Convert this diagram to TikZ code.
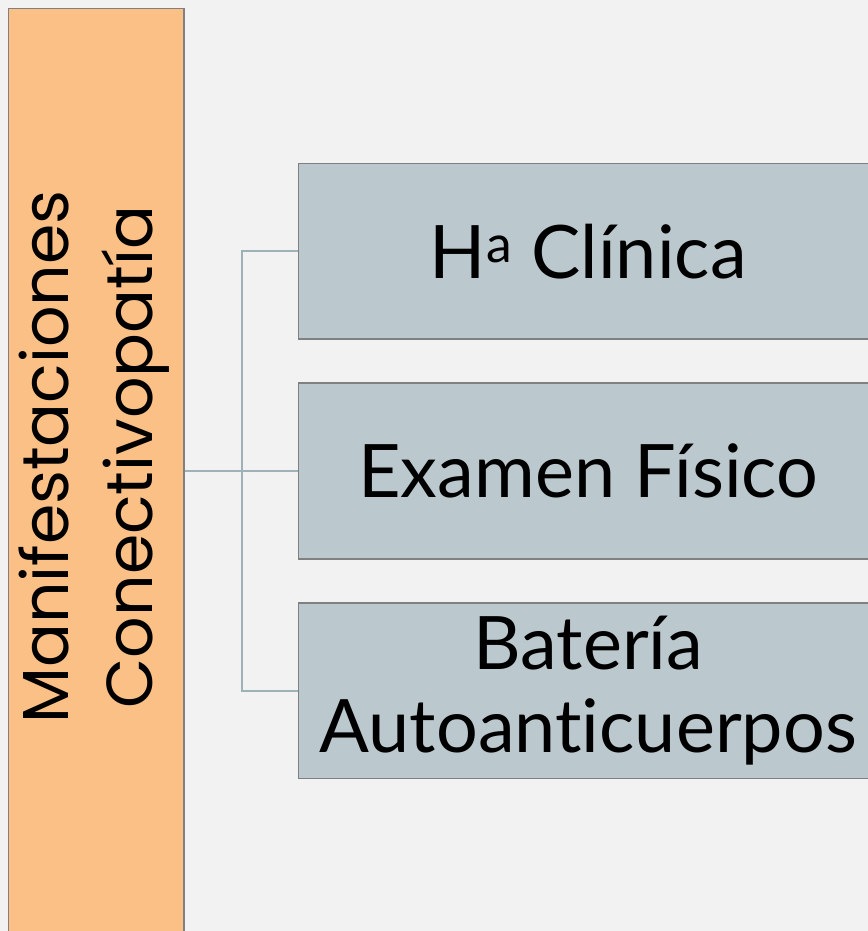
\documentclass[tikz,border=0pt]{standalone}
\usepackage{fontspec}
\setmainfont{Lato}[Ligatures=NoCommon]
\newfontfamily\roundfont{Poppins}
\definecolor{pagebg}{HTML}{F2F2F2}
\definecolor{mainfill}{HTML}{FBC086}
\definecolor{itemfill}{HTML}{BBC8CD}
\definecolor{edgegray}{HTML}{808080}
\definecolor{linkgray}{HTML}{9EB1B6}
\tikzset{
  mainbox/.style={draw=edgegray, fill=mainfill, line width=.9pt,
    minimum width=3.51cm, minimum height=18.5cm, inner sep=0pt},
  maintext/.style={rotate=90, inner sep=0pt, align=center,
    font=\roundfont\fontsize{37}{47.5}\selectfont},
  itembox/.style={draw=edgegray, fill=itemfill, line width=.9pt,
    minimum width=11.59cm, minimum height=3.51cm, inner sep=0pt,
    align=center, font=\fontsize{42}{47}\selectfont},
  link/.style={draw=linkgray, line width=1.1pt},
}

\begin{document}
\begin{tikzpicture}[x=0.02cm,y=-0.02cm]
  \fill[pagebg] (0,0) rectangle (868,931);
  \clip (0,0) rectangle (868,931);
  \node[mainbox] (main) at (96.25,471) {};
  \node[maintext] (title) at (94,457) {Manifestaciones\\Conectivopatía};
  \node[itembox] (hist) at (588.25,251.25) {H\textsuperscript{a} Clínica};
  \node[itembox] (exam) at (588.25,471) {Examen Físico};
  \node[itembox] (bat) at (588.25,690.75) {Batería\\Autoanticuerpos};
  \coordinate (fork) at (242,471);
  \draw[link] (main.east |- exam.west) -- (exam.west);
  \draw[link] (hist.west) -| (fork) |- (bat.west);
\end{tikzpicture}
\end{document}
